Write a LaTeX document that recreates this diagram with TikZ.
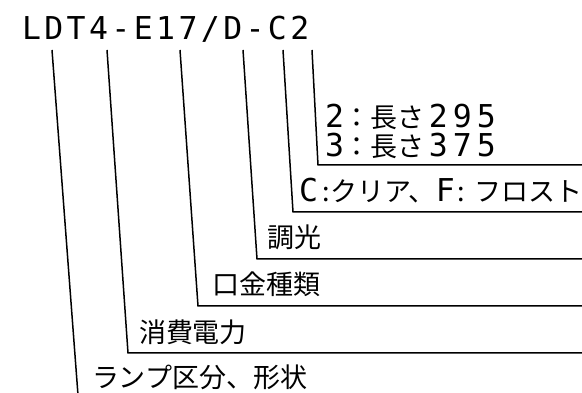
\documentclass[tikz,border=0pt]{standalone}
\usepackage{fontspec}
\newfontfamily\cjk{Noto Sans CJK JP}
\newfontfamily\monoA[LetterSpace=10.8]{DejaVu Sans Mono}
\newfontfamily\monoB[LetterSpace=16]{DejaVu Sans Mono}
\newcommand{\lat}[1]{{\fontsize{31.5pt}{32pt}\monoA #1}}
\newcommand{\dig}[1]{{\fontsize{31.5pt}{32pt}\monoB #1}}
\newcommand{\kanji}[1]{{\fontsize{27pt}{28pt}\cjk #1}}
\begin{document}
\begin{tikzpicture}[x=1pt,y=1pt,
  lbl/.style={anchor=base west,inner sep=0pt,outer sep=0pt},
  row/.style={lbl,text height=22pt,text depth=0pt},
  leader/.style={line width=1.5pt,line join=miter}]
\useasboundingbox (0,0) rectangle (582,393);
\clip (0,0) rectangle (582,393);
% title
\node[lbl] (title) at (22,353) {\lat{LDT4-E17/D-C2}};
% labels
\node[row] (len1) at (325,265) {\dig{2}\kanji{：長さ}\kern4pt\dig{295}};
\node[row] (len2) at (325,236) {\dig{3}\kanji{：長さ}\kern4pt\dig{375}};
\node[lbl] (glass) at (299,191) {\lat{C}\kern5pt\kanji{:クリア、}\lat{F}\kern3pt\kanji{:}\kern9pt\kanji{フロスト}};
\node[lbl] (dim) at (267,145) {\kanji{調光}};
\node[lbl] (base) at (212,98) {\kanji{口金種類}};
\node[lbl] (power) at (139,50) {\kanji{消費電力}};
\node[lbl] (lamp) at (92,5) {\kanji{ランプ区分、形状}};
% leader coordinates
\coordinate (t1) at (52,343); \coordinate (b1) at (78,-2);
\coordinate (t2) at (107,343); \coordinate (b2) at (128,40); \coordinate (e2) at (584,40);
\coordinate (t3) at (180,343); \coordinate (b3) at (198,87); \coordinate (e3) at (584,87);
\coordinate (t4) at (243,343); \coordinate (b4) at (257,134); \coordinate (e4) at (584,134);
\coordinate (t5) at (283,343); \coordinate (b5) at (293,181); \coordinate (e5) at (584,181);
\coordinate (t6) at (312,343); \coordinate (b6) at (318,228); \coordinate (e6) at (584,228);
\draw[leader] (t1) -- (b1);
\draw[leader] (t2) -- (b2) -- (e2);
\draw[leader] (t3) -- (b3) -- (e3);
\draw[leader] (t4) -- (b4) -- (e4);
\draw[leader] (t5) -- (b5) -- (e5);
\draw[leader] (t6) -- (b6) -- (e6);
\end{tikzpicture}
\end{document}
